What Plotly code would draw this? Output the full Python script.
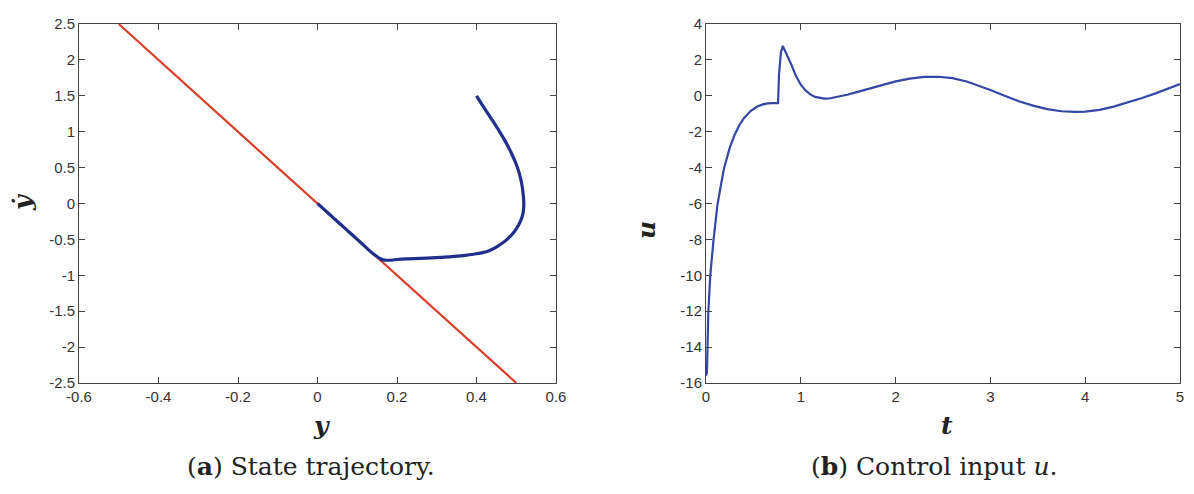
import plotly.graph_objects as go

# ---- data: panel (a) state trajectory ----
switch_y = [-0.5, 0.5]
switch_ydot = [2.5, -2.5]

traj_y = [0.400, 0.423, 0.447, 0.469, 0.488, 0.503, 0.513, 0.518, 0.519, 0.518, 0.514, 0.506, 0.494, 0.477, 0.452, 0.430, 0.400, 0.360, 0.310, 0.260, 0.210, 0.165, 0.14, 0.12, 0.10, 0.08, 0.06, 0.04, 0.02, 0.0]
traj_ydot = [1.50, 1.30, 1.10, 0.90, 0.70, 0.50, 0.30, 0.10, 0.0, -0.10, -0.20, -0.30, -0.40, -0.50, -0.60, -0.66, -0.70, -0.73, -0.75, -0.765, -0.775, -0.785, -0.70, -0.60, -0.50, -0.40, -0.30, -0.20, -0.10, 0.0]

# ---- data: panel (b) control input ----
t_vals = [0.0, 0.01, 0.024, 0.045, 0.08, 0.12, 0.16, 0.19, 0.25, 0.30, 0.35, 0.40, 0.47, 0.54, 0.60, 0.65, 0.70, 0.76, 0.77, 0.79, 0.81, 0.85, 0.90, 0.95, 1.00, 1.05, 1.10, 1.15, 1.20, 1.25, 1.30, 1.40, 1.50, 1.60, 1.75, 1.90, 2.00, 2.15, 2.30, 2.45, 2.60, 2.75, 2.90, 3.00, 3.15, 3.30, 3.45, 3.60, 3.75, 3.90, 4.00, 4.15, 4.30, 4.45, 4.60, 4.75, 4.90, 5.00]
u_vals = [-15.6, -15.4, -12.1, -10.0, -8.0, -6.1, -4.9, -4.05, -2.9, -2.2, -1.65, -1.25, -0.85, -0.6, -0.48, -0.42, -0.41, -0.41, 1.2, 2.4, 2.77, 2.35, 1.74, 1.1, 0.62, 0.3, 0.08, -0.06, -0.13, -0.16, -0.15, -0.06, 0.07, 0.22, 0.45, 0.68, 0.8, 0.96, 1.05, 1.06, 0.98, 0.8, 0.52, 0.32, 0.0, -0.3, -0.55, -0.74, -0.86, -0.9, -0.88, -0.78, -0.6, -0.38, -0.12, 0.15, 0.45, 0.65]

# ---- tick labels ----
ax_x_ticks = [-0.6, -0.4, -0.2, 0, 0.2, 0.4, 0.6]
ax_x_text = ["-0.6", "-0.4", "-0.2", "0", "0.2", "0.4", "0.6"]
ax_y_ticks = [-2.5, -2, -1.5, -1, -0.5, 0, 0.5, 1, 1.5, 2, 2.5]
ax_y_text = ["-2.5", "-2", "-1.5", "-1", "-0.5", "0", "0.5", "1", "1.5", "2", "2.5"]
bx_x_ticks = [0, 1, 2, 3, 4, 5]
bx_x_text = ["0", "1", "2", "3", "4", "5"]
bx_y_ticks = [-16, -14, -12, -10, -8, -6, -4, -2, 0, 2, 4]
bx_y_text = ["-16", "-14", "-12", "-10", "-8", "-6", "-4", "-2", "0", "2", "4"]

fig = go.Figure()
fig.add_trace(go.Scatter(x=switch_y, y=switch_ydot, mode="lines",
                         line=dict(color="#d8402a", width=2.2), xaxis="x", yaxis="y"))
fig.add_trace(go.Scatter(x=traj_y, y=traj_ydot, mode="lines",
                         line=dict(color="#1f2f8c", width=3.2, shape="spline", smoothing=1.0),
                         xaxis="x", yaxis="y"))
fig.add_trace(go.Scatter(x=t_vals, y=u_vals, mode="lines",
                         line=dict(color="#3347a6", width=2.2), xaxis="x2", yaxis="y2"))

tickfont = dict(family="Liberation Sans, Arial, sans-serif", size=15, color="#333")
common = dict(showline=True, linecolor="#444", linewidth=1, mirror="allticks",
              ticks="inside", ticklen=6, tickwidth=1, tickcolor="#444", showgrid=False, zeroline=False,
              tickfont=tickfont, automargin=False)

# page has an 8px body margin; figure is sized to fit the window inside it
OFF = 8.0
W = 1178.0
H = 478.0


def px(X):
    return (X - OFF) / W


def py(Y):
    return 1 - (Y - OFF) / H


ydom = [py(383), py(24)]
fig.update_layout(
    width=int(W), height=int(H), margin=dict(l=0, r=0, t=0, b=0, autoexpand=False),
    paper_bgcolor="white", plot_bgcolor="white", showlegend=False,
    xaxis=dict(domain=[px(79), px(556)], range=[-0.6, 0.6],
               tickvals=ax_x_ticks, ticktext=ax_x_text, anchor="y", **common),
    yaxis=dict(domain=ydom, range=[-2.5, 2.5],
               tickvals=ax_y_ticks, ticktext=ax_y_text, anchor="x", **common),
    xaxis2=dict(domain=[px(706), px(1180)], range=[0, 5],
                tickvals=bx_x_ticks, ticktext=bx_x_text, anchor="y2", **common),
    yaxis2=dict(domain=ydom, range=[-16, 4],
                tickvals=bx_y_ticks, ticktext=bx_y_text, anchor="x2", **common),
)

serif = "DejaVu Serif, Liberation Serif, serif"
ann = [
    dict(text="<b><i>y</i></b>", x=321, y=425, font=dict(family=serif, size=25)),
    dict(text="<b><i>ẏ</i></b>", x=22, y=203, font=dict(family=serif, size=25), textangle=-90),
    dict(text="<b><i>t</i></b>", x=947, y=425, font=dict(family=serif, size=25)),
    dict(text="<b><i>u</i></b>", x=647, y=230, font=dict(family=serif, size=25), textangle=-90),
    dict(text="(<b>a</b>) State trajectory.", x=311, y=466, font=dict(family=serif, size=25)),
    dict(text="(<b>b</b>) Control input <i>u</i>.", x=934, y=466, font=dict(family=serif, size=25)),
]
for a in ann:
    fig.add_annotation(text=a["text"], x=px(a["x"]), y=py(a["y"]), xref="paper", yref="paper",
                       showarrow=False, xanchor="center", yanchor="middle", font=dict(color="#222", **a["font"]),
                       textangle=a.get("textangle", 0))

fig.write_html("out.html")
